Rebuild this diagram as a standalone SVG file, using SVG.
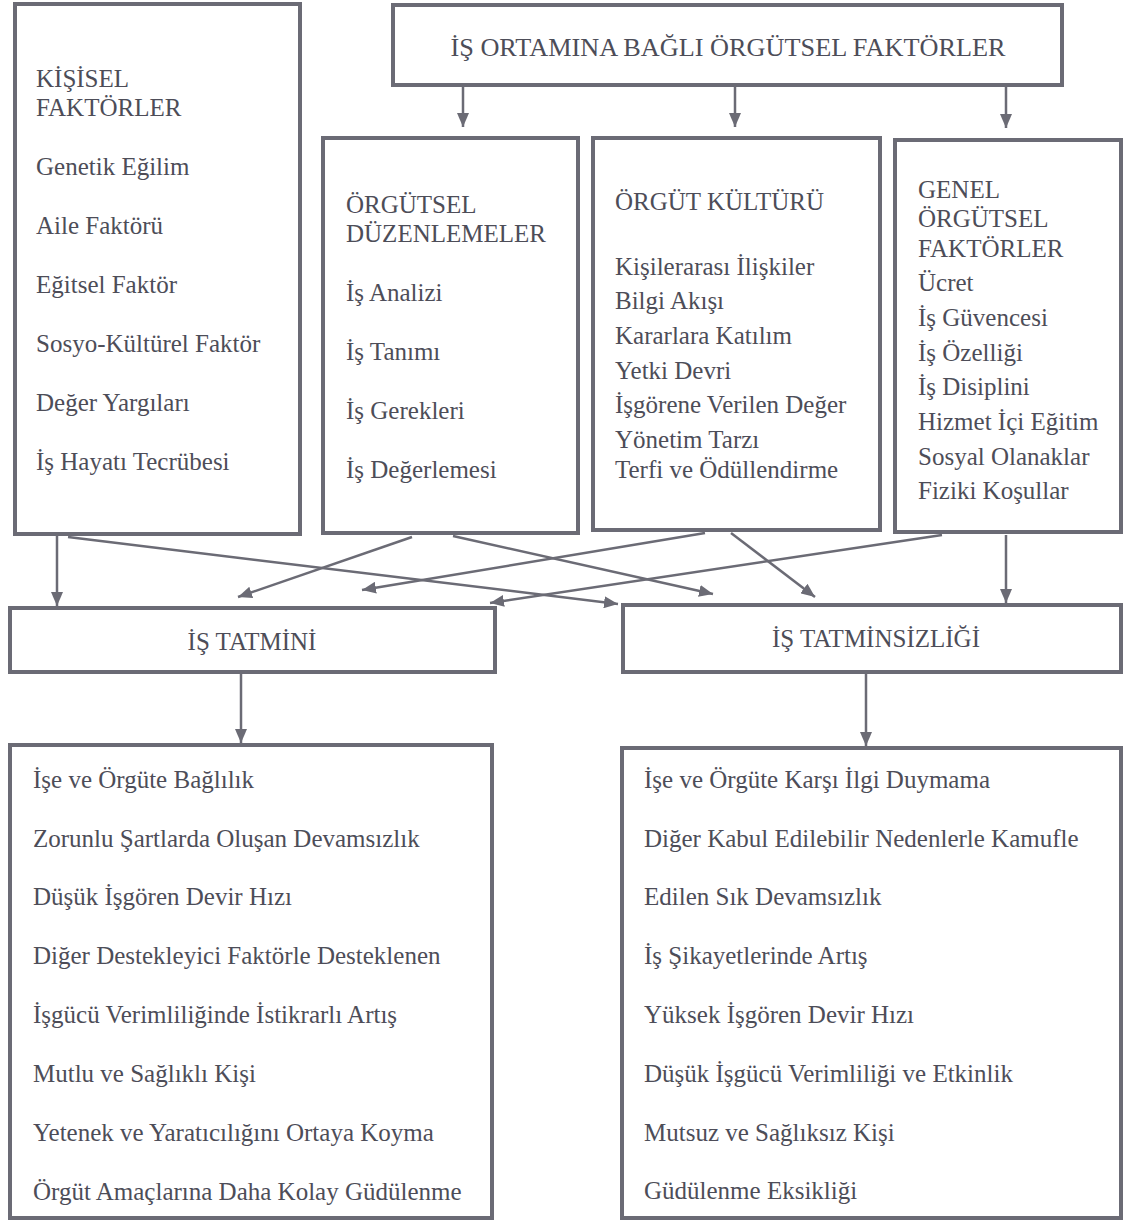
<svg xmlns="http://www.w3.org/2000/svg" width="1123" height="1220" viewBox="0 0 1123 1220">
<style>
.box{fill:#fff;stroke:#6b6b75;stroke-width:4}
.t{font-family:"Liberation Serif","Times New Roman",serif;font-size:25px;fill:#4d4d58}
.c{text-anchor:middle}
.con line{stroke:#6b6b75;stroke-width:2.5;marker-end:url(#ah)}
</style>
<defs>
<marker id="ah" viewBox="0 0 14 12" refX="14" refY="6" markerWidth="14" markerHeight="12" markerUnits="userSpaceOnUse" orient="auto">
<path d="M0,0 L14,6 L0,12 z" fill="#6b6b75"/>
</marker>
</defs>
<rect width="1123" height="1220" fill="#fff"/>

<g id="header">
<rect class="box" x="393" y="5" width="669" height="80"/>
<text class="t c" x="728" y="56" font-size="30" textLength="555" lengthAdjust="spacingAndGlyphs">İŞ ORTAMINA BAĞLI ÖRGÜTSEL FAKTÖRLER</text>
</g>

<g id="kisisel">
<rect class="box" x="15" y="4" width="285" height="530"/>
<text class="t" x="36" y="87">KİŞİSEL</text>
<text class="t" x="36" y="116">FAKTÖRLER</text>
<text class="t" x="36" y="175">Genetik Eğilim</text>
<text class="t" x="36" y="234">Aile Faktörü</text>
<text class="t" x="36" y="293">Eğitsel Faktör</text>
<text class="t" x="36" y="352">Sosyo-Kültürel Faktör</text>
<text class="t" x="36" y="411">Değer Yargıları</text>
<text class="t" x="36" y="470">İş Hayatı Tecrübesi</text>
</g>

<g id="orgutsel-duzenlemeler">
<rect class="box" x="323" y="138" width="255" height="395"/>
<text class="t" x="346" y="213">ÖRGÜTSEL</text>
<text class="t" x="346" y="242">DÜZENLEMELER</text>
<text class="t" x="346" y="301">İş Analizi</text>
<text class="t" x="346" y="360">İş Tanımı</text>
<text class="t" x="346" y="419">İş Gerekleri</text>
<text class="t" x="346" y="478">İş Değerlemesi</text>
</g>

<g id="orgut-kulturu">
<rect class="box" x="593" y="138" width="287" height="392"/>
<text class="t" x="615" y="210">ÖRGÜT KÜLTÜRÜ</text>
<text class="t" x="615" y="275">Kişilerarası İlişkiler</text>
<text class="t" x="615" y="309">Bilgi Akışı</text>
<text class="t" x="615" y="344">Kararlara Katılım</text>
<text class="t" x="615" y="379">Yetki Devri</text>
<text class="t" x="615" y="413">İşgörene Verilen Değer</text>
<text class="t" x="615" y="448">Yönetim Tarzı</text>
<text class="t" x="615" y="478">Terfi ve Ödüllendirme</text>
</g>

<g id="genel-orgutsel">
<rect class="box" x="895" y="140" width="226" height="392"/>
<text class="t" x="918" y="198">GENEL</text>
<text class="t" x="918" y="227">ÖRGÜTSEL</text>
<text class="t" x="918" y="257">FAKTÖRLER</text>
<text class="t" x="918" y="291">Ücret</text>
<text class="t" x="918" y="326">İş Güvencesi</text>
<text class="t" x="918" y="361">İş Özelliği</text>
<text class="t" x="918" y="395">İş Disiplini</text>
<text class="t" x="918" y="430">Hizmet İçi Eğitim</text>
<text class="t" x="918" y="465">Sosyal Olanaklar</text>
<text class="t" x="918" y="499">Fiziki Koşullar</text>
</g>

<g id="is-tatmini">
<rect class="box" x="10" y="608" width="485" height="64"/>
<text class="t c" x="252" y="650" font-size="27">İŞ TATMİNİ</text>
</g>

<g id="is-tatminsizligi">
<rect class="box" x="623" y="605" width="498" height="67"/>
<text class="t c" x="876" y="647" font-size="27">İŞ TATMİNSİZLİĞİ</text>
</g>

<g id="tatmin-sonuclari">
<rect class="box" x="10" y="745" width="482" height="473"/>
<text class="t" x="33" y="788">İşe ve Örgüte Bağlılık</text>
<text class="t" x="33" y="847">Zorunlu Şartlarda Oluşan Devamsızlık</text>
<text class="t" x="33" y="905">Düşük İşgören Devir Hızı</text>
<text class="t" x="33" y="964">Diğer Destekleyici Faktörle Desteklenen</text>
<text class="t" x="33" y="1023">İşgücü Verimliliğinde İstikrarlı Artış</text>
<text class="t" x="33" y="1082">Mutlu ve Sağlıklı Kişi</text>
<text class="t" x="33" y="1141">Yetenek ve Yaratıcılığını Ortaya Koyma</text>
<text class="t" x="33" y="1200">Örgüt Amaçlarına Daha Kolay Güdülenme</text>
</g>

<g id="tatminsizlik-sonuclari">
<rect class="box" x="622" y="748" width="499" height="470"/>
<text class="t" x="644" y="788">İşe ve Örgüte Karşı İlgi Duymama</text>
<text class="t" x="644" y="847">Diğer Kabul Edilebilir Nedenlerle Kamufle</text>
<text class="t" x="644" y="905">Edilen Sık Devamsızlık</text>
<text class="t" x="644" y="964">İş Şikayetlerinde Artış</text>
<text class="t" x="644" y="1023">Yüksek İşgören Devir Hızı</text>
<text class="t" x="644" y="1082">Düşük İşgücü Verimliliği ve Etkinlik</text>
<text class="t" x="644" y="1141">Mutsuz ve Sağlıksız Kişi</text>
<text class="t" x="644" y="1199">Güdülenme Eksikliği</text>
</g>

<g id="connectors" class="con">
<line x1="463" y1="87" x2="463" y2="127"/>
<line x1="735" y1="87" x2="735" y2="127"/>
<line x1="1006" y1="87" x2="1006" y2="128"/>
<line x1="57" y1="536" x2="57" y2="606"/>
<line x1="68" y1="537" x2="618" y2="604"/>
<line x1="412" y1="537" x2="238" y2="597"/>
<line x1="453" y1="536" x2="713" y2="594"/>
<line x1="705" y1="533" x2="362" y2="590"/>
<line x1="731" y1="533" x2="815" y2="597"/>
<line x1="942" y1="535" x2="490" y2="603"/>
<line x1="1006" y1="535" x2="1006" y2="603"/>
<line x1="241" y1="674" x2="241" y2="743"/>
<line x1="866" y1="674" x2="866" y2="746"/>
</g>
</svg>
